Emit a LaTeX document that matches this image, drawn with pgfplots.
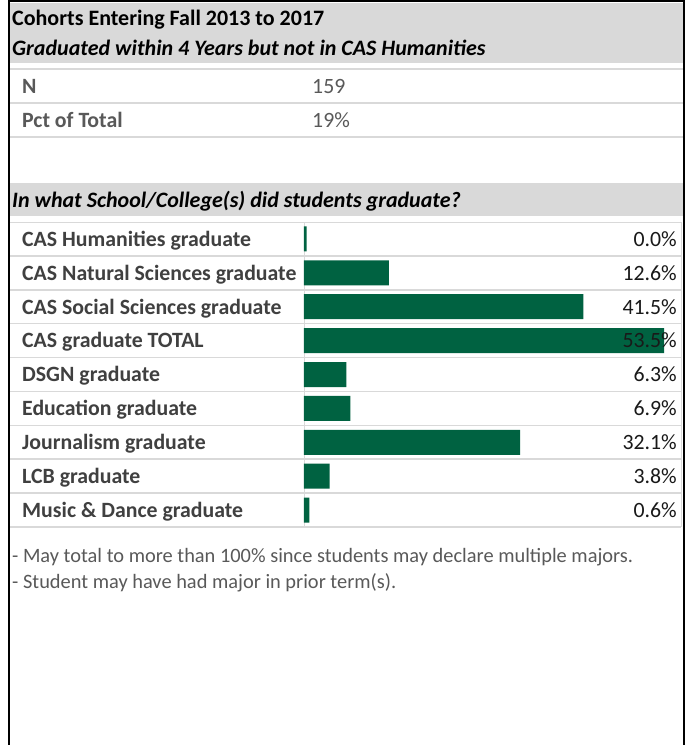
\documentclass[border=0pt]{standalone}
\usepackage{pgfplots}
\pgfplotsset{compat=1.18}
\usepackage{fontspec}
\setmainfont{Carlito}
\definecolor{bargreen}{RGB}{0,98,65}
\definecolor{band}{RGB}{217,217,217}
\definecolor{rulec}{RGB}{217,217,217}
\definecolor{lab}{RGB}{64,64,64}
\definecolor{sub}{RGB}{89,89,89}
\begin{document}
\begin{tikzpicture}
\useasboundingbox (0,0) rectangle (687pt,-745pt);
\fill[white] (0,0) rectangle (687pt,-745pt);
% header bands
\fill[band] (10pt,-3pt) rectangle (683pt,-63pt);
\fill[band] (10pt,-183pt) rectangle (683pt,-216pt);
% top table rules
\draw[rulec, line width=2pt] (10pt,-69pt) -- (683pt,-69pt);
\draw[rulec, line width=1.5pt] (10pt,-103pt) -- (683pt,-103pt);
\draw[rulec, line width=1.5pt] (10pt,-137pt) -- (683pt,-137pt);
% chart table rules
\draw[rulec, line width=1pt] (10pt,-222pt) -- (681pt,-222pt);
\foreach \k in {1,...,9} {
  \draw[rulec, line width=1.5pt] (10pt,{(-222-\k*33.89)*1pt}) -- (681pt,{(-222-\k*33.89)*1pt});
}
\draw[rulec, line width=1pt] (304pt,-222pt) -- (304pt,-527pt);
\draw[rulec, line width=1pt] (681pt,-222pt) -- (681pt,-527pt);
% texts
\node[anchor=base west, inner sep=0pt, font=\bfseries\fontsize{22}{26}\selectfont] at (12pt,-25pt) {Cohorts Entering Fall 2013 to 2017};
\node[anchor=base west, inner sep=0pt, font=\bfseries\itshape\fontsize{22}{26}\selectfont] at (12pt,-55pt) {Graduated within 4 Years but not in CAS Humanities};
\node[anchor=base west, inner sep=0pt, text=sub, font=\bfseries\fontsize{21.8}{26}\selectfont] at (22pt,-93pt) {N};
\node[anchor=base west, inner sep=0pt, text=sub, font=\fontsize{21.8}{26}\selectfont] at (312pt,-93pt) {159};
\node[anchor=base west, inner sep=0pt, text=sub, font=\bfseries\fontsize{21.8}{26}\selectfont] at (22pt,-127pt) {Pct of Total};
\node[anchor=base west, inner sep=0pt, text=sub, font=\fontsize{21.8}{26}\selectfont] at (312pt,-127pt) {19\%};
\node[anchor=base west, inner sep=0pt, font=\bfseries\itshape\fontsize{22}{26}\selectfont] at (12pt,-207pt) {In what School/College(s) did students graduate?};
\node[anchor=base west, inner sep=0pt, text=sub, font=\fontsize{20.4}{24}\selectfont] at (12pt,-562pt) {- May total to more than 100\% since students may declare multiple majors.};
\node[anchor=base west, inner sep=0pt, text=sub, font=\fontsize{20.4}{24}\selectfont] at (12pt,-588pt) {- Student may have had major in prior term(s).};
% chart
\begin{axis}[at={(304pt,-527pt)}, anchor=south west, scale only axis,
  width=377pt, height=305pt, xmin=0, xmax=56, ymin=-0.5, ymax=8.5,
  axis line style={draw=none}, xtick=\empty, ytick={0,...,8},
  yticklabels={Music \& Dance graduate, LCB graduate, Journalism graduate, Education graduate, DSGN graduate, CAS graduate TOTAL, CAS Social Sciences graduate, CAS Natural Sciences graduate, CAS Humanities graduate},
  major tick length=0pt,
  yticklabel style={anchor=west, xshift=-282pt, yshift=-1.5pt, inner sep=0pt, text=lab, font=\bfseries\fontsize{21.8}{26}\selectfont},
  clip=false]
\addplot[xbar, bar width=25pt, fill=bargreen, draw=none] coordinates {(0.4,8) (12.6,7) (41.5,6) (53.5,5) (6.3,4) (6.9,3) (32.1,2) (3.8,1) (0.8,0)};
\addplot[draw=none, mark=none, nodes near coords, point meta=explicit symbolic,
  every node near coord/.append style={anchor=east, inner sep=0pt, text=black!90, font=\fontsize{21.8}{26}\selectfont}]
  coordinates {(55.4,8)[0.0\%] (55.4,7)[12.6\%] (55.4,6)[41.5\%] (55.4,5)[53.5\%] (55.4,4)[6.3\%] (55.4,3)[6.9\%] (55.4,2)[32.1\%] (55.4,1)[3.8\%] (55.4,0)[0.6\%]};
\end{axis}
% outer border
\draw[black, line width=2pt] (9pt,-745pt) -- (9pt,-1pt) -- (684pt,-1pt) -- (684pt,-745pt);
\end{tikzpicture}
\end{document}
